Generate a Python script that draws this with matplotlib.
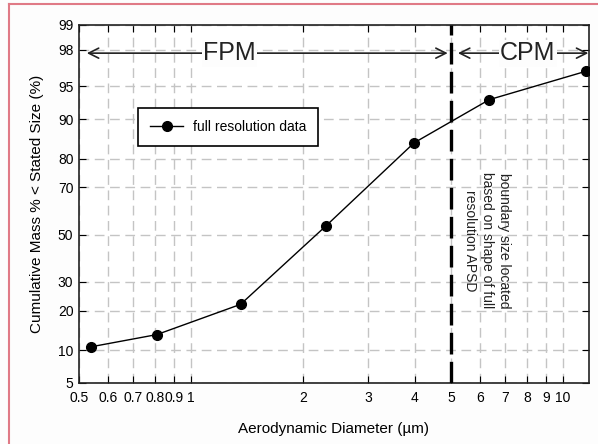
import numpy as np
import matplotlib
import matplotlib.pyplot as plt
from matplotlib.lines import Line2D
from statistics import NormalDist

matplotlib.use('Agg')
plt.rcParams['font.family'] = ['Liberation Sans', 'DejaVu Sans']

# Данные
diameter = [0.54, 0.81, 1.36, 2.31, 3.98, 6.34, 11.5]
cum_mass = [10.7, 13.4, 22.0, 54.0, 84.6, 93.3, 96.5]
x_ticks = [0.5, 0.6, 0.7, 0.8, 0.9, 1, 2, 3, 4, 5, 6, 7, 8, 9, 10]
x_labels = ['0.5', '0.6', '0.7', '0.8', '0.9', '1', '2', '3', '4', '5', '6', '7', '8', '9', '10']
y_ticks = [5, 10, 20, 30, 50, 70, 80, 90, 95, 98, 99]
boundary = 5

nd = NormalDist()
_ppf = np.vectorize(nd.inv_cdf, otypes=[float])
_cdf = np.vectorize(nd.cdf, otypes=[float])


# Вероятностная шкала по оси y
def probit(p):
    p = np.clip(np.asarray(p, dtype=float) / 100.0, 1e-9, 1 - 1e-9)
    return _ppf(p)


def probit_inv(z):
    return _cdf(np.asarray(z, dtype=float)) * 100.0


fig = plt.figure(figsize=(5.98, 4.44), dpi=100)
fig.patch.set_facecolor('#fdfdfd')
ax = fig.add_axes([0.132, 0.1374, 0.853, 0.8063])
ax.set_xscale('log')
ax.set_yscale('function', functions=(probit, probit_inv))
ax.set_xlim(0.5, 11.75)
ax.set_ylim(5, 99)

ax.set_xticks(x_ticks)
ax.set_xticklabels(x_labels)
ax.xaxis.set_minor_locator(matplotlib.ticker.NullLocator())
ax.set_yticks(y_ticks)
ax.set_yticklabels([str(v) for v in y_ticks])
ax.yaxis.set_minor_locator(matplotlib.ticker.NullLocator())
ax.tick_params(direction='in', top=True, right=True, length=5, labelsize=10)
ax.tick_params(axis='x', pad=6)
ax.tick_params(axis='y', pad=4)

ax.grid(True, color='#c4c4c4', linestyle=(0, (7, 4)), linewidth=1)
for s in ax.spines.values():
    s.set_linewidth(1.2)
    s.set_color('#222222')

ax.plot(diameter, cum_mass, color='black', lw=1, marker='o', markersize=7,
        label='full resolution data', zorder=3)

ax.axvline(boundary, color='black', lw=2.4, dashes=(6.5, 2.2), zorder=3)

# Стрелки FPM / CPM
ax.annotate('', xy=(0.525, 97.8), xytext=(4.9, 97.8),
            arrowprops=dict(arrowstyle='<->', color='#222222', lw=1.2, mutation_scale=18,
                            shrinkA=0, shrinkB=0))
ax.annotate('', xy=(5.22, 97.8), xytext=(11.7, 97.8),
            arrowprops=dict(arrowstyle='<->', color='#222222', lw=1.2, mutation_scale=18,
                            shrinkA=0, shrinkB=0))
ax.text(1.27, 97.8, 'FPM', fontsize=18, ha='center', va='center', color='#222222',
        bbox=dict(facecolor='#fdfdfd', edgecolor='none', pad=1))
ax.text(8.05, 97.8, 'CPM', fontsize=18, ha='center', va='center', color='#222222',
        bbox=dict(facecolor='#fdfdfd', edgecolor='none', pad=1))

ax.text(0.8, 0.589, 'boundary size located\nbased on shape of full\nresolution APSD',
        transform=ax.transAxes, rotation=270, ha='center', va='top',
        multialignment='center', fontsize=10, color='#222222', linespacing=1.3)

leg = ax.legend(loc='upper left', bbox_to_anchor=(0.116, 0.768), fancybox=False,
                edgecolor='black', framealpha=1, fontsize=10, handlelength=2.4,
                borderpad=0.85, borderaxespad=0, handletextpad=0.7)
leg.get_frame().set_linewidth(1.2)

ax.set_xlabel('Aerodynamic Diameter (µm)', fontsize=11, labelpad=12)
ax.set_ylabel('Cumulative Mass % < Stated Size (%)', fontsize=11, labelpad=10)

# Розовая рамка рисунка
fig.add_artist(Line2D([0.015, 0.015], [0, 0.99], color='#e07a86', lw=1.5))
fig.add_artist(Line2D([0.015, 1], [0.99, 0.99], color='#e07a86', lw=1.5))

plt.savefig('out.png', dpi=100, facecolor=fig.get_facecolor())
